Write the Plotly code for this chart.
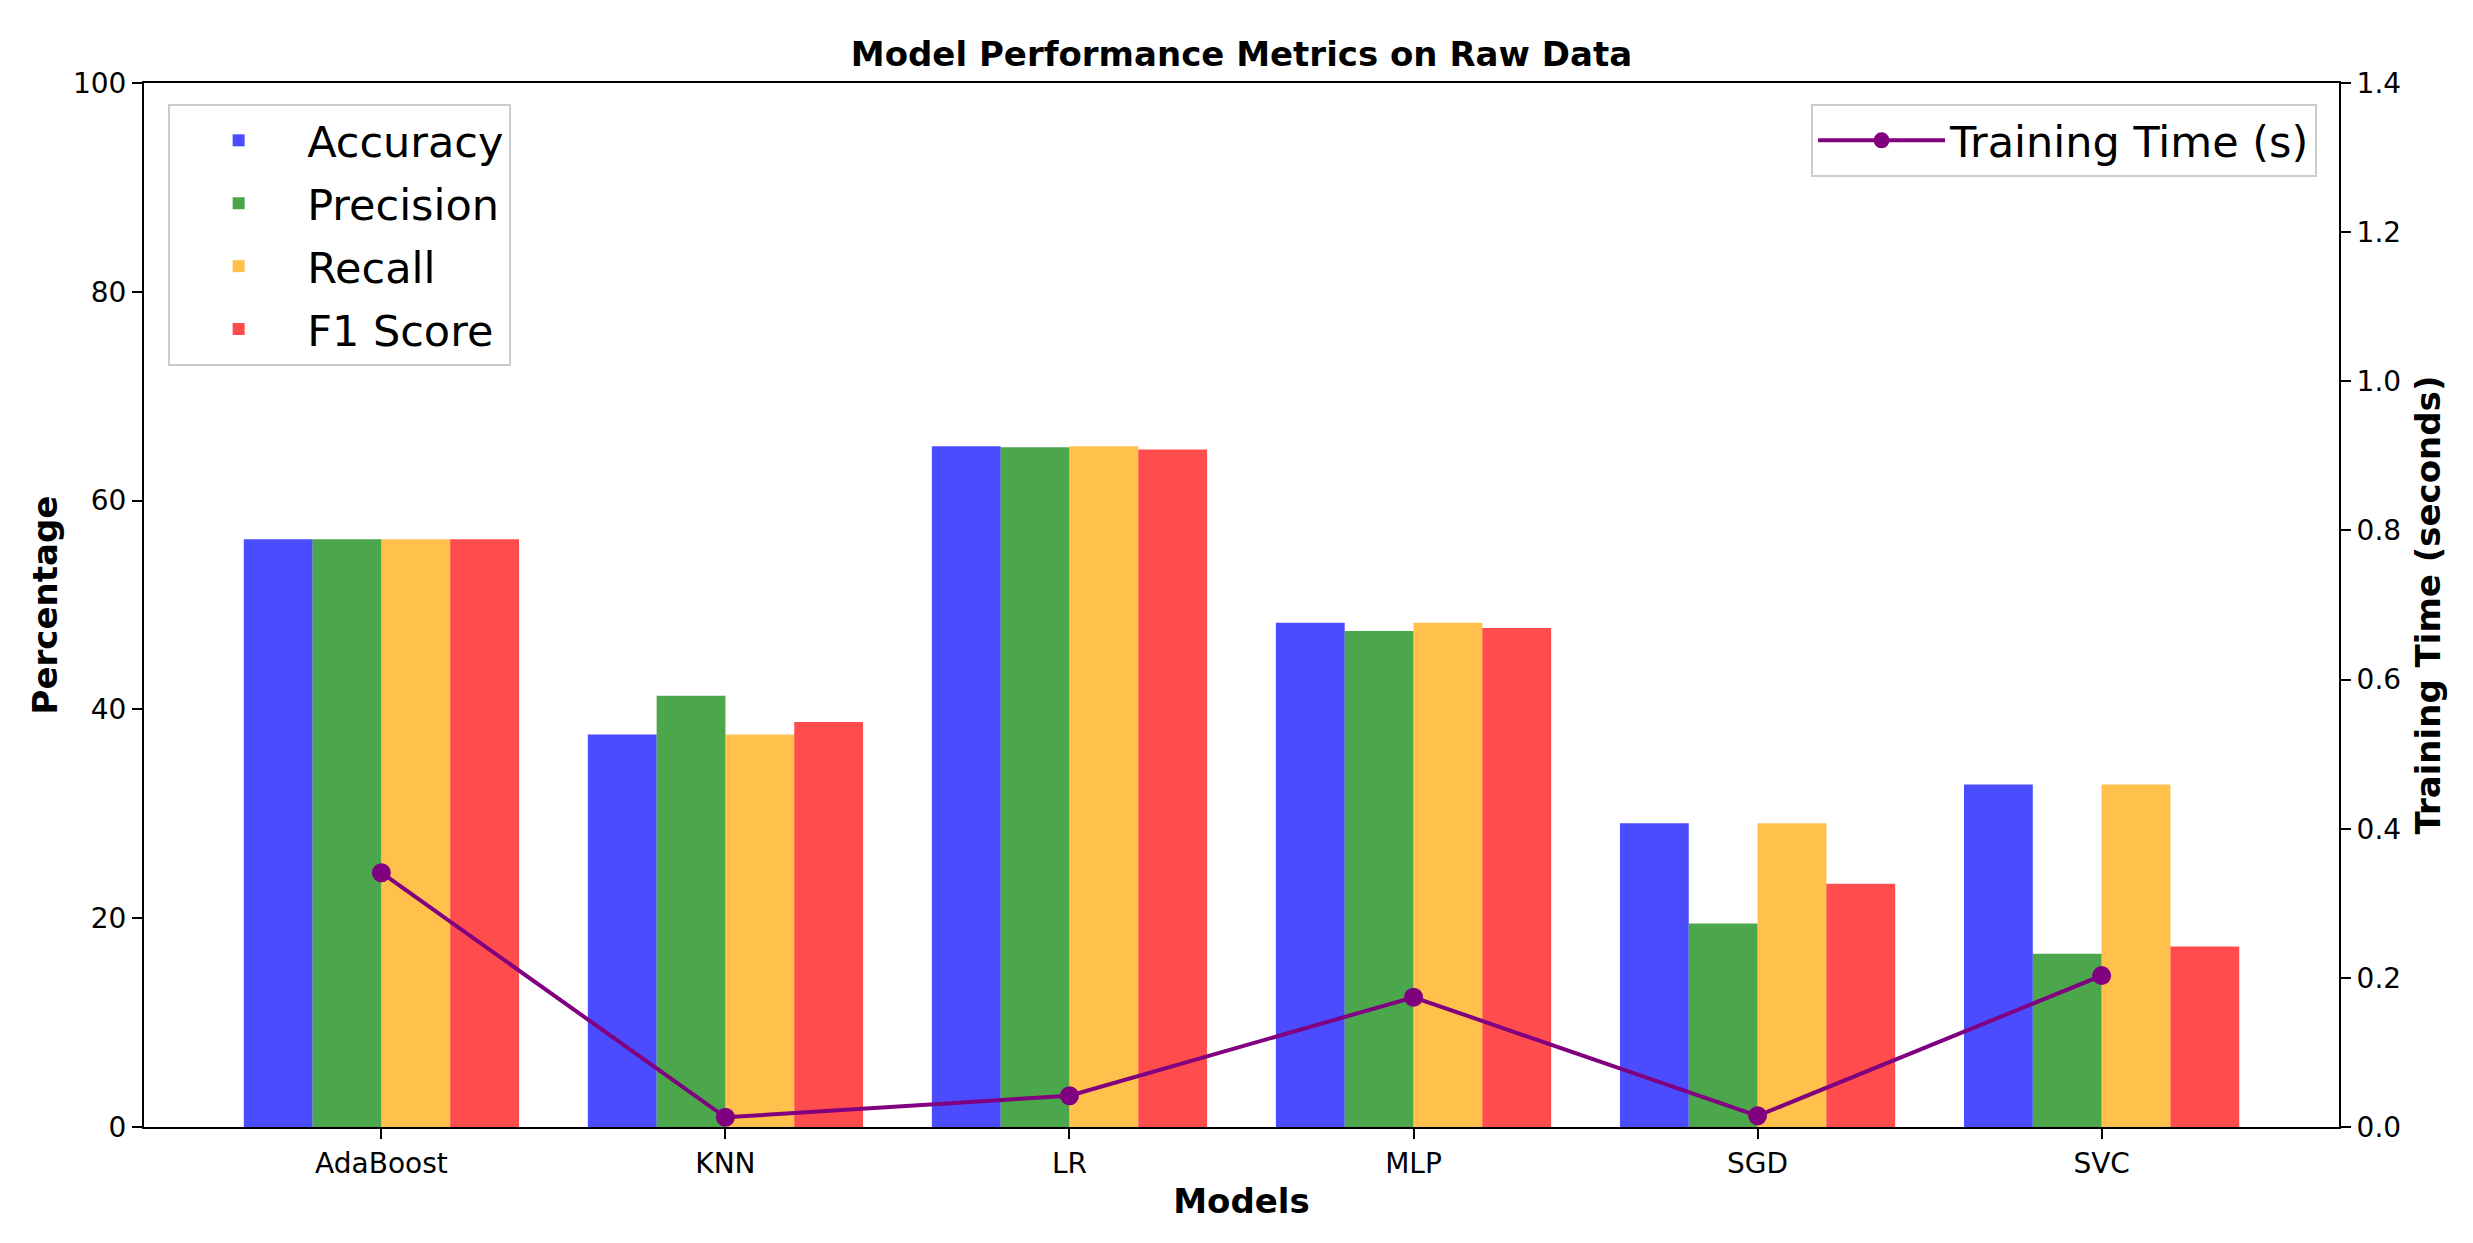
import plotly.graph_objects as go

models = ["AdaBoost", "KNN", "LR", "MLP", "SGD", "SVC"]
accuracy = [56.3, 37.6, 65.2, 48.3, 29.1, 32.8]
precision = [56.3, 41.3, 65.1, 47.5, 19.5, 16.6]
recall = [56.3, 37.6, 65.2, 48.3, 29.1, 32.8]
f1_score = [56.3, 38.8, 64.9, 47.8, 23.3, 17.3]
training_time = [0.341, 0.013, 0.042, 0.174, 0.015, 0.203]

metric_names = ["Accuracy", "Precision", "Recall", "F1 Score"]
metric_values = [accuracy, precision, recall, f1_score]
metric_colors = ["rgb(0,0,255)", "rgb(0,128,0)", "rgb(255,165,0)", "rgb(255,0,0)"]

FONT = "DejaVu Sans"
TICK = 28
LAB = 34

fig = go.Figure()
for name, vals, col in zip(metric_names, metric_values, metric_colors):
    fig.add_trace(go.Bar(x=models, y=vals, name=name, marker=dict(color=col, line=dict(width=0)),
                         opacity=0.7, legend="legend", legendgroup=name))

fig.add_trace(go.Scatter(x=models, y=training_time, name="Training Time (s)", yaxis="y2",
                         mode="lines+markers", line=dict(color="purple", width=4),
                         marker=dict(color="purple", size=19), legend="legend2"))

fig.update_layout(
    width=2473, height=1243,
    margin=dict(l=144, r=134, t=83, b=116),
    paper_bgcolor="white", plot_bgcolor="white",
    font=dict(family=FONT, color="black", size=TICK),
    barmode="group", bargap=0.2, bargroupgap=0,
    title=dict(text="Model Performance Metrics on Raw Data", x=0.5, xref="paper", xanchor="center",
               y=1 - 54 / 1243, yref="container", yanchor="middle",
               font=dict(family=FONT, size=LAB, weight="bold", color="black")),
    xaxis=dict(type="category", range=[-0.69, 5.69], showline=True, linecolor="black", linewidth=2,
               mirror=True, ticks="outside", ticklen=10, tickwidth=2, tickcolor="black",
               showgrid=False, zeroline=False, tickfont=dict(size=TICK),
               title=dict(text="Models", font=dict(size=LAB, weight="bold"), standoff=11)),
    yaxis=dict(range=[0, 100], dtick=20, showline=True, linecolor="black", linewidth=2,
               ticks="outside", ticklen=10, tickwidth=2, tickcolor="black", showgrid=False,
               zeroline=False, tickfont=dict(size=TICK),
               title=dict(text="Percentage", font=dict(size=LAB, weight="bold"), standoff=5)),
    yaxis2=dict(range=[0, 1.4], dtick=0.2, tickformat=".1f", overlaying="y", side="right",
                showline=True, linecolor="black", linewidth=2, ticks="outside", ticklen=10,
                tickwidth=2, tickcolor="black", showgrid=False, zeroline=False,
                tickfont=dict(size=TICK),
                title=dict(text="Training Time (seconds)", font=dict(size=LAB, weight="bold"), standoff=16)),
    legend=dict(x=0.011, y=0.98, xanchor="left", yanchor="top", font=dict(size=43),
                bgcolor="rgba(255,255,255,0.8)", bordercolor="#cccccc", borderwidth=2,
                itemwidth=127, tracegroupgap=4),
    legend2=dict(x=0.99, y=0.98, xanchor="right", yanchor="top", font=dict(size=43),
                 bgcolor="rgba(255,255,255,0.8)", bordercolor="#cccccc", borderwidth=2,
                 itemwidth=127),
)

fig.write_html("out.html", config={"displayModeBar": False},
               post_script="document.body.style.margin='0';")
